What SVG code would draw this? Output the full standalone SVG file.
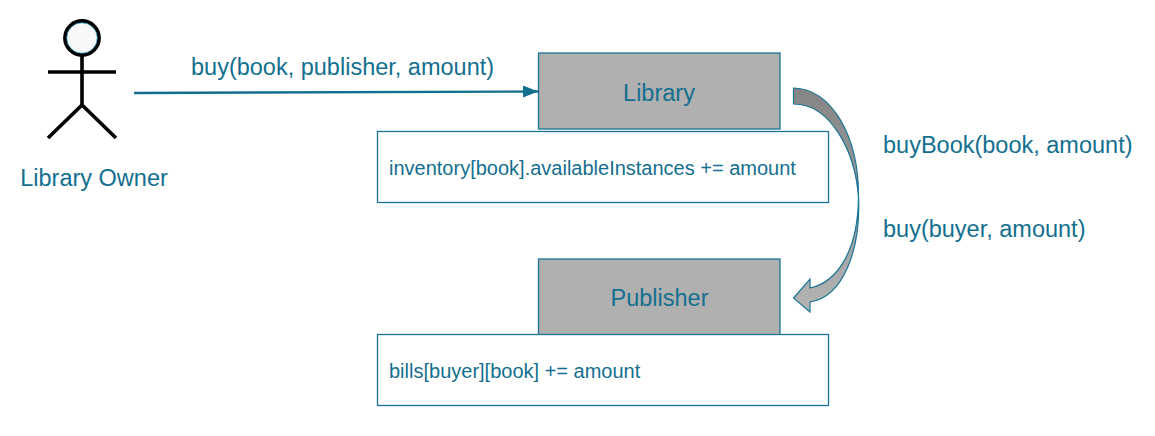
<svg xmlns="http://www.w3.org/2000/svg" width="1155" height="436" viewBox="0 0 1155 436">
<defs>
<style>
text{font-family:"Liberation Sans",Arial,sans-serif;fill:#136f8f}
.t{font-size:23.500px}
.s{font-size:20px}
.box{fill:#b0b0b0;stroke:#1a7596;stroke-width:1.3}
.note{fill:#fff;stroke:#1a7596;stroke-width:1.3}
.fig{fill:none;stroke:#000;stroke-width:3.6}
</style>
<linearGradient id="g" x1="0" y1="0" x2="0" y2="1"><stop offset="0" stop-color="#858585"/><stop offset="0.5" stop-color="#9a9a9a"/><stop offset="1" stop-color="#b4b4b4"/></linearGradient>
<marker id="a" markerUnits="userSpaceOnUse" markerWidth="16" markerHeight="14" refX="15" refY="6" orient="auto"><path d="M0 0L15 6L0 12Z" fill="#136f8f"/></marker>
</defs>
<rect width="1155" height="436" fill="#fff"/>
<g id="connectors">
<path d="M134 93L538 91.500" fill="none" stroke="#136f8f" stroke-width="2.400" marker-end="url(#a)"/>
<path id="curved" d="M793.500 88C832 89 859 137 858.500 197C858 250 838 282 810 288L810 279L793.500 298L810 312L810 302C843 297 861 250 858.500 197C855 150 830 104 793.500 104Z" fill="url(#g)" stroke="#1a7596" stroke-width="1.200"/>
</g>
<g id="library-owner">
<circle cx="82" cy="38" r="17" fill="#f8f8f8" stroke="#000" stroke-width="3.800"/>
<circle cx="82" cy="38" r="15.200" fill="none" stroke="#45b5d8" stroke-width="0.800"/>
<path class="fig" d="M82 55V105M48 72H116M48 138L82 105L116 138"/>
<text class="t" x="94" y="185.600" text-anchor="middle">Library Owner</text>
</g>
<text class="t" x="191" y="74.600">buy(book, publisher, amount)</text>
<g id="library">
<rect class="box" x="538.500" y="53" width="241.500" height="76"/>
<text class="t" x="659" y="100.600" text-anchor="middle">Library</text>
</g>
<g id="library-state">
<rect class="note" x="377.500" y="131.500" width="451" height="71"/>
<text class="s" x="389" y="174.600">inventory[book].availableInstances += amount</text>
</g>
<g id="publisher">
<rect class="box" x="538.500" y="259" width="241.500" height="76"/>
<text class="t" x="659.500" y="305.600" text-anchor="middle">Publisher</text>
</g>
<g id="publisher-state">
<rect class="note" x="377.500" y="334.500" width="451" height="71"/>
<text class="s" x="389" y="377.600">bills[buyer][book] += amount</text>
</g>
<text class="t" x="883" y="152.600">buyBook(book, amount)</text>
<text class="t" x="883" y="236.600">buy(buyer, amount)</text>
</svg>
